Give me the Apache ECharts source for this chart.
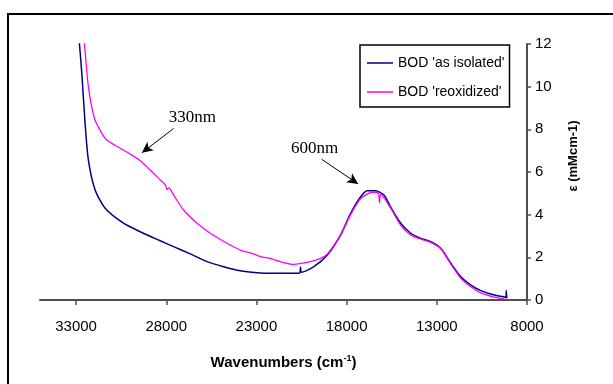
<!DOCTYPE html>
<html>
<head>
<meta charset="utf-8">
<script src="https://cdn.jsdelivr.net/npm/echarts@6/dist/echarts.min.js"></script>
<style>
html,body{margin:0;padding:0;background:#fff;}
#chart{width:613px;height:384px;}
</style>
</head>
<body>
<div id="chart"></div>
<script>
// ---- data ----
var xTicks = [33000, 28000, 23000, 18000, 13000, 8000];
var yTicks = [0, 2, 4, 6, 8, 10, 12];
var seriesNames = ["BOD 'as isolated'", "BOD 'reoxidized'"];

var blueWn  = [32900, 32833, 32683, 32500, 32317, 31944, 31389, 30372, 29444, 28428, 27594, 26667, 25739, 24817, 23889, 22961, 22222, 20928, 20600, 20560, 20500, 19817, 19072, 18333, 17778, 17222, 16850, 16389, 15928, 15556, 15000, 14444, 13889, 13333, 12778, 12222, 11667, 11111, 10556, 9817, 9300, 9167, 9150, 9120];
var blueVal = [12.6, 12.19, 10.63, 8.28, 6.56, 5.16, 4.30, 3.60, 3.20, 2.81, 2.50, 2.16, 1.80, 1.56, 1.37, 1.28, 1.25, 1.25, 1.26, 1.55, 1.30, 1.56, 2.11, 3.05, 4.06, 4.84, 5.12, 5.12, 4.92, 4.35, 3.60, 3.13, 2.89, 2.73, 2.42, 1.72, 1.09, 0.70, 0.44, 0.23, 0.15, 0.12, 0.45, 0.08];

var pinkWn  = [32620, 32556, 32317, 31983, 31572, 31294, 30650, 30000, 29444, 28889, 28333, 28050, 27961, 27850, 27594, 27039, 26294, 25556, 24628, 23889, 23150, 22778, 22222, 21850, 20928, 20600, 20000, 19444, 19072, 18333, 17778, 17222, 16572, 16250, 16180, 16111, 15556, 15000, 14444, 13889, 13333, 12778, 12222, 11667, 11111, 10556, 9817, 9261];
var pinkVal = [12.6, 12.19, 10.0, 8.52, 7.81, 7.50, 7.16, 6.84, 6.53, 6.09, 5.63, 5.40, 5.18, 5.26, 4.92, 4.22, 3.60, 3.13, 2.66, 2.34, 2.16, 2.03, 1.95, 1.84, 1.67, 1.70, 1.80, 1.95, 2.15, 3.05, 4.00, 4.75, 5.05, 5.02, 4.55, 4.95, 4.30, 3.50, 3.05, 2.85, 2.70, 2.40, 1.68, 1.02, 0.62, 0.33, 0.13, 0.05];

// annotations (data coordinates)
var annoText    = ['330nm', '600nm'];
var annoLabelAt = [[26556, 8.55], [19778, 7.08]];
var annoFrom    = [[27594, 8.04], [19389, 6.60]];
var annoTo      = [[29350, 6.90], [17361, 5.44]];

function zip(a, b) { return a.map(function (v, i) { return [v, b[i]]; }); }

var sans = "'Liberation Sans', Arial, sans-serif";
var serif = "'Liberation Serif', 'Times New Roman', serif";
var axisColor = '#505050';

var chart = echarts.init(document.getElementById('chart'));
chart.setOption({
  animation: false,
  backgroundColor: '#fff',
  grid: { left: 40, right: 86, top: 44, bottom: 84, containLabel: false },
  graphic: [{
    type: 'rect', silent: true,
    shape: { x: 8, y: 14, width: 700, height: 500 },
    style: { fill: 'none', stroke: '#000', lineWidth: 2 }
  }],
  legend: {
    orient: 'vertical', left: 360, top: 45,
    data: seriesNames.map(function (n) { return { name: n, icon: 'rect' }; }),
    itemWidth: 26, itemHeight: 1.5, itemGap: 13,
    padding: [10, 5, 7, 7],
    borderColor: '#000', borderWidth: 1.5,
    textStyle: { fontFamily: sans, fontSize: 14, color: '#000', lineHeight: 16 }
  },
  xAxis: {
    type: 'value', min: 8000, max: 35000, inverse: true,
    name: 'Wavenumbers (cm{sup|-1})', nameLocation: 'middle', nameGap: 54,
    nameTextStyle: {
      fontFamily: sans, fontSize: 15, fontWeight: 'bold', color: '#000',
      rich: { sup: { fontFamily: sans, fontSize: 9, fontWeight: 'bold', color: '#000', verticalAlign: 'top', padding: [0, 0, 8, 0] } }
    },
    axisLine: { onZero: false, lineStyle: { color: axisColor, width: 2 } },
    axisTick: { show: true, length: 5, customValues: xTicks, lineStyle: { color: axisColor, width: 1.5 } },
    axisLabel: { customValues: xTicks, margin: 19, fontFamily: sans, fontSize: 15, color: '#000',
      formatter: function (v) { return String(v); } },
    splitLine: { show: false }
  },
  yAxis: {
    type: 'value', min: 0, max: 12, interval: 2, position: 'right',
    name: 'ε (mMcm-1)', nameLocation: 'middle', nameRotate: 90, nameGap: 40,
    nameTextStyle: { fontFamily: sans, fontSize: 13, fontWeight: 'bold', color: '#000', padding: [0, 0, 0, 32] },
    axisLine: { show: true, onZero: false, lineStyle: { color: axisColor, width: 2 } },
    axisTick: { show: true, length: 4, lineStyle: { color: axisColor, width: 1.5 } },
    axisLabel: { margin: 8, fontFamily: sans, fontSize: 15, color: '#000' },
    splitLine: { show: false }
  },
  series: [
    {
      name: seriesNames[0], type: 'line', data: zip(blueWn, blueVal),
      symbol: 'none', smooth: 0.25, clip: true,
      lineStyle: { color: '#000080', width: 1.5 }, itemStyle: { color: '#000080' },
      markLine: {
        silent: true, symbol: ['none', 'arrow'], symbolSize: [8, 11],
        label: { show: false },
        lineStyle: { color: '#000', width: 1, type: 'solid' },
        data: annoFrom.map(function (f, i) { return [{ coord: f }, { coord: annoTo[i] }]; })
      },
      markPoint: {
        silent: true, symbol: 'rect', symbolSize: 1,
        itemStyle: { color: 'rgba(0,0,0,0)' },
        label: { show: true, position: 'inside', color: '#000', fontFamily: serif, fontSize: 17 },
        data: annoLabelAt.map(function (c, i) { return { coord: c, value: annoText[i], label: { formatter: annoText[i] } }; })
      }
    },
    {
      name: seriesNames[1], type: 'line', data: zip(pinkWn, pinkVal),
      symbol: 'none', smooth: 0.25, clip: true,
      lineStyle: { color: '#FF00FF', width: 1.3 }, itemStyle: { color: '#FF00FF' }
    }
  ]
});
</script>
</body>
</html>
